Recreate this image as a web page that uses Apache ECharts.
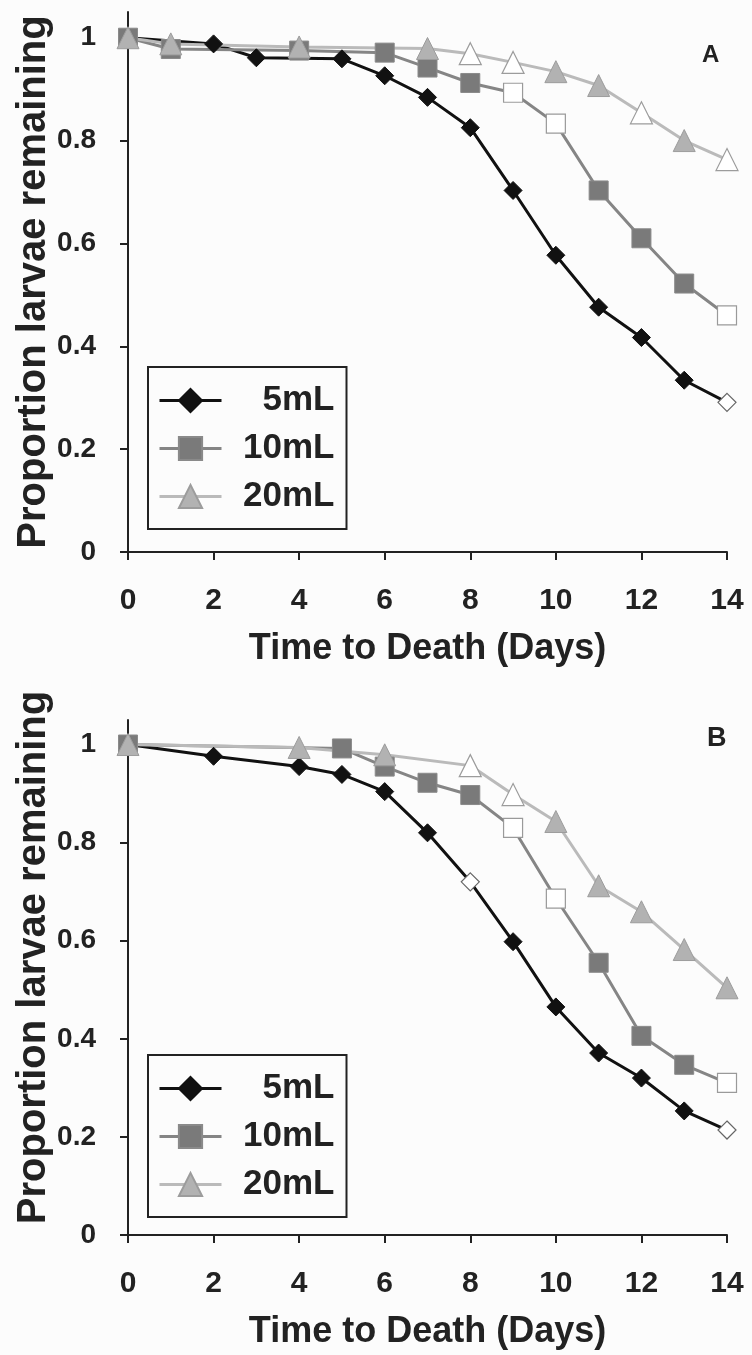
<!DOCTYPE html>
<html>
<head>
<meta charset="utf-8">
<script src="https://cdn.jsdelivr.net/npm/echarts@6/dist/echarts.min.js"></script>
<style>
  html, body { margin: 0; padding: 0; background: #fcfcfc; }
  #main { width: 752px; height: 1355px; }
</style>
</head>
<body>
<div id="main"></div>
<script>
// panel A
var aDays5 = [0, 2, 3, 5, 6, 7, 8, 9, 10, 11, 12, 13, 14];
var aVals5 = [1.0, 0.988, 0.961, 0.959, 0.926, 0.884, 0.825, 0.703, 0.577, 0.476, 0.417, 0.334, 0.291];
var aOpen5 = [14];
var aDays10 = [0, 1, 4, 6, 7, 8, 9, 10, 11, 12, 13, 14];
var aVals10 = [1.0, 0.978, 0.975, 0.971, 0.942, 0.912, 0.893, 0.833, 0.703, 0.61, 0.522, 0.46];
var aOpen10 = [9, 10, 14];
var aDays20 = [0, 1, 4, 7, 8, 9, 10, 11, 12, 13, 14];
var aVals20 = [1.0, 0.988, 0.982, 0.979, 0.969, 0.952, 0.934, 0.907, 0.854, 0.80, 0.763];
var aOpen20 = [8, 9, 12, 14];

// panel B
var bDays5 = [0, 2, 4, 5, 6, 7, 8, 9, 10, 11, 12, 13, 14];
var bVals5 = [1.0, 0.976, 0.955, 0.939, 0.904, 0.82, 0.72, 0.598, 0.465, 0.371, 0.32, 0.253, 0.214];
var bOpen5 = [8, 14];
var bDays10 = [0, 5, 6, 7, 8, 9, 10, 11, 12, 13, 14];
var bVals10 = [1.0, 0.992, 0.955, 0.922, 0.897, 0.83, 0.686, 0.555, 0.406, 0.347, 0.31];
var bOpen10 = [9, 10, 14];
var bDays20 = [0, 4, 6, 8, 9, 10, 11, 12, 13, 14];
var bVals20 = [1.0, 0.994, 0.979, 0.957, 0.898, 0.843, 0.712, 0.659, 0.582, 0.504];
var bOpen20 = [8, 9];

var names = ['5mL', '10mL', '20mL'];
var yTicks = [0, 0.2, 0.4, 0.6, 0.8, 1];
var xTitle = 'Time to Death (Days)';
var yTitle = 'Proportion larvae remaining';

var FONT = '"Liberation Sans", Arial, sans-serif';

// style per dose
var look = {
  '5mL':  { line: '#111', fill: '#111', border: '#111', symbol: 'diamond', size: 18, open: '#666' },
  '10mL': { line: '#858585', fill: '#7a7a7a', border: '#8a8a8a', symbol: 'rect', size: 19, open: '#9a9a9a' },
  '20mL': { line: '#bababa', fill: '#b2b2b2', border: '#9c9c9c', symbol: 'triangle', size: 22, open: '#9c9c9c' }
};

function points(days, vals, open, name) {
  return days.map(function (d, i) {
    var item = { value: [d, vals[i]] };
    if (open.indexOf(d) >= 0) {
      item.itemStyle = { color: '#fff', borderColor: look[name].open, borderWidth: 1.2 };
    }
    return item;
  });
}

function mkSeries(name, idx, days, vals, open) {
  var s = look[name];
  return {
    name: name,
    type: 'line',
    xAxisIndex: idx,
    yAxisIndex: idx,
    symbol: s.symbol,
    symbolSize: s.size,
    lineStyle: { color: s.line, width: 3 },
    itemStyle: { color: s.fill, borderColor: s.border, borderWidth: 1 },
    emphasis: { disabled: true },
    animation: false,
    data: points(days, vals, open, name)
  };
}

function mkX(idx) {
  return {
    type: 'value', gridIndex: idx, min: 0, max: 14, interval: 2,
    name: xTitle, nameLocation: 'middle', nameGap: 79, nameMoveOverlap: false,
    nameTextStyle: { fontFamily: FONT, fontWeight: 'bold', fontSize: 36, color: '#222' },
    axisLine: { onZero: false, lineStyle: { color: '#222', width: 2 } },
    axisTick: { length: 8, lineStyle: { color: '#222', width: 2 } },
    axisLabel: { margin: 34, fontFamily: FONT, fontWeight: 'bold', fontSize: 30, color: '#222' },
    splitLine: { show: false }
  };
}

function mkY(idx, shift) {
  return {
    type: 'value', gridIndex: idx, min: 0, max: 1.05, interval: 0.2,
    name: yTitle, nameLocation: 'middle', nameGap: 74, nameMoveOverlap: false,
    nameTextStyle: {
      fontFamily: FONT, fontWeight: 'bold', fontSize: 40, color: '#222',
      padding: [0, 0, 0, shift]
    },
    axisLine: { onZero: false, lineStyle: { color: '#222', width: 2 } },
    axisTick: { length: 8, customValues: yTicks, lineStyle: { color: '#222', width: 2 } },
    axisLabel: {
      margin: 32, customValues: yTicks, fontFamily: FONT, fontWeight: 'bold', fontSize: 28, color: '#222',
      formatter: function (v) { return String(Math.round(v * 10) / 10); }
    },
    splitLine: { show: false }
  };
}

function mkLegend(top) {
  return {
    data: names, orient: 'vertical', left: 148, top: top,
    itemWidth: 62, itemHeight: 29, itemGap: 13,
    padding: [16, 12, 15, 10],
    borderColor: '#222', borderWidth: 2,
    selectedMode: false,
    lineStyle: { width: 3 },
    formatter: function (n) { return '{t|' + n + '}'; },
    textStyle: {
      rich: { t: { width: 108, align: 'right', fontFamily: FONT, fontWeight: 'bold', fontSize: 35, color: '#222', lineHeight: 34 } }
    }
  };
}

var chart = echarts.init(document.getElementById('main'), null, { renderer: 'canvas' });
chart.setOption({
  backgroundColor: '#fcfcfc',
  animation: false,
  grid: [
    { left: 128, top: 12, width: 599, height: 540 },
    { left: 128, top: 720, width: 599, height: 515 }
  ],
  xAxis: [mkX(0), mkX(1)],
  yAxis: [mkY(0, 0), mkY(1, 40)],
  legend: [mkLegend(367), mkLegend(1055)],
  graphic: [
    { type: 'text', left: 702, top: 43, style: { text: 'A', font: 'bold 24px ' + FONT, fill: '#222' } },
    { type: 'text', left: 707, top: 725, style: { text: 'B', font: 'bold 27px ' + FONT, fill: '#222' } }
  ],
  series: [
    mkSeries('5mL', 0, aDays5, aVals5, aOpen5),
    mkSeries('10mL', 0, aDays10, aVals10, aOpen10),
    mkSeries('20mL', 0, aDays20, aVals20, aOpen20),
    mkSeries('5mL', 1, bDays5, bVals5, bOpen5),
    mkSeries('10mL', 1, bDays10, bVals10, bOpen10),
    mkSeries('20mL', 1, bDays20, bVals20, bOpen20)
  ]
});
</script>
</body>
</html>
